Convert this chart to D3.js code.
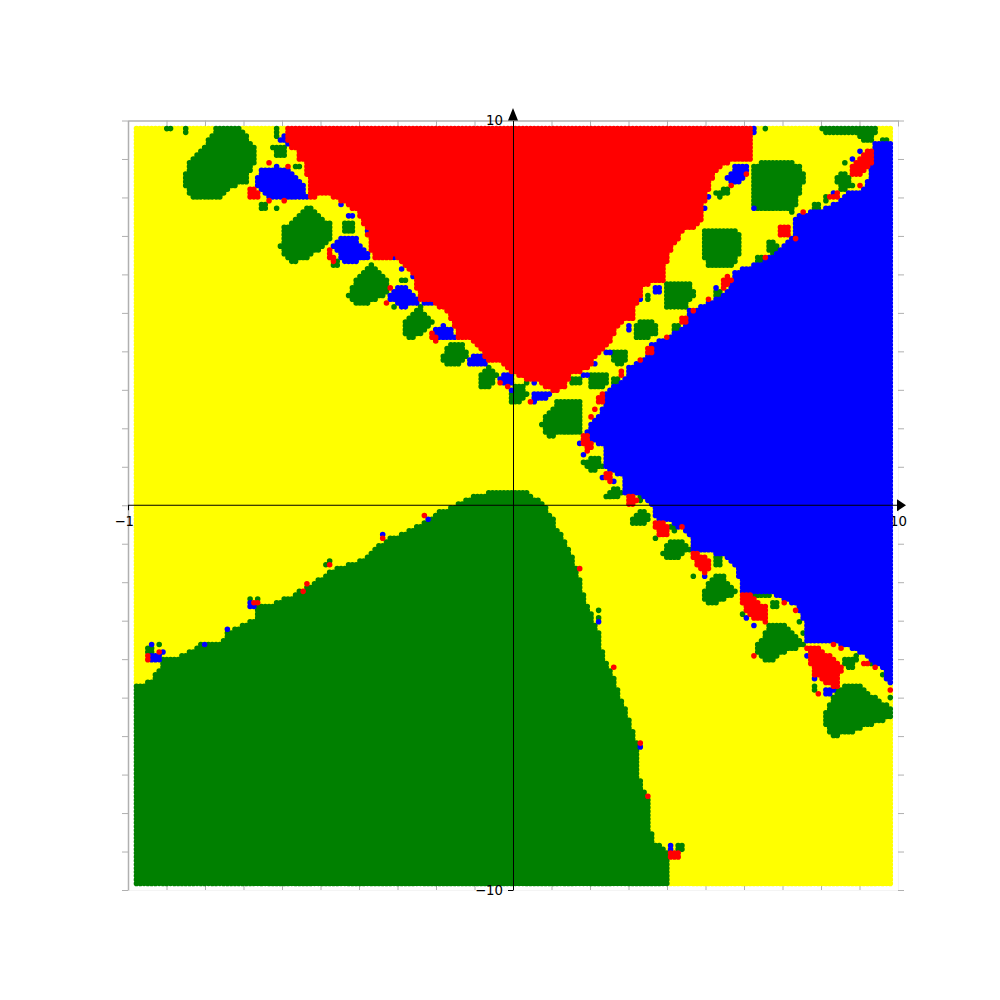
<!DOCTYPE html>
<html><head><meta charset="utf-8">
<style>html,body{margin:0;padding:0;background:#fff}svg{display:block}text{font-family:"DejaVu Sans",sans-serif;font-size:13.3px;fill:#000}</style>
<script src="https://cdn.jsdelivr.net/npm/d3@7/dist/d3.min.js"></script>
</head><body><div id="chart"></div>
<script>
const tickValues = d3.range(-10, 11);
const labelledTicks = [-10, 10];
const latticeCount = 200;
const latticeX = [-9.78, 9.8], latticeY = [-9.83, 9.79];
const palette = {yellow:"#ffff00", green:"#008000", blue:"#0000ff", red:"#ff0000"};

const greenBasin = [[-10,-4.81],[-9.35,-4.49],[-9.19,-4.23],[-9.12,-4],[-8.78,-3.95],[-8.47,-3.82],[-8.29,-3.71],[-8.05,-3.58],[-7.66,-3.58],[-7.48,-3.43],[-7.43,-3.25],[-7.17,-3.19],[-6.91,-3.04],[-6.65,-2.91],[-6.62,-2.6],[-6.26,-2.55],[-6,-2.42],[-5.74,-2.34],[-5.48,-2.16],[-5.27,-2.08],[-5.01,-1.9],[-4.75,-1.69],[-4.36,-1.56],[-3.97,-1.43],[-3.58,-1.12],[-3.19,-0.83],[-2.68,-0.65],[-2.29,-0.39],[-1.9,-0.16],[-1.45,0.05],[-0.86,0.31],[-0.42,0.36],[0,0.39],[0.44,0.31],[0.78,0.05],[1.04,-0.31],[1.17,-0.65],[1.35,-0.91],[1.53,-1.3],[1.74,-1.95],[1.87,-2.39],[2.08,-2.91],[2.21,-3.25],[2.29,-3.64],[2.47,-4.16],[2.65,-4.55],[2.83,-5.06],[3.04,-5.64],[3.25,-6.23],[3.3,-7.14],[3.51,-7.66],[3.56,-8.31],[3.69,-8.75],[4.03,-9.04],[4.08,-10],[-10,-10]];

const redBasin = [[-5.92,10],[6.23,10],[6.21,8.91],[5.71,8.96],[5.38,8.78],[5.19,8.52],[5.01,8],[4.94,7.66],[4.86,7.27],[4.42,7.14],[4.26,6.88],[4.08,6.55],[3.95,6.18],[3.9,5.84],[3.56,5.79],[3.38,5.64],[3.3,5.32],[3.17,5.14],[3.17,4.86],[2.91,4.86],[2.73,4.62],[2.6,4.34],[2.52,4.21],[2.31,4.03],[2.18,3.84],[2.05,3.69],[1.92,3.51],[1.69,3.45],[1.53,3.38],[1.4,3.12],[1.09,2.94],[0.88,3.06],[0.62,3.25],[0.18,3.3],[0,3.43],[-0.26,3.69],[-0.68,3.71],[-0.78,3.95],[-1.04,4.29],[-1.45,4.36],[-1.51,4.62],[-1.71,5.01],[-1.9,5.14],[-2.1,5.27],[-2.42,5.27],[-2.47,5.51],[-2.6,5.9],[-2.75,6.18],[-3.01,6.42],[-3.64,6.42],[-3.71,6.7],[-3.84,7.22],[-4.05,7.61],[-4.42,7.87],[-4.83,8.05],[-5.27,8],[-5.35,8.52],[-5.45,8.91],[-5.61,9.17],[-5.84,9.35]];

const blueBasin = [[10,9.48],[9.38,9.4],[9.38,8.83],[9.27,8.65],[9.19,8.36],[9.01,8.18],[8.57,8.1],[8.49,7.92],[8.18,7.74],[7.97,7.66],[7.64,7.61],[7.27,7.48],[7.27,7.06],[7.12,6.81],[6.62,6.49],[6.42,6.31],[5.97,6.18],[5.71,6.08],[5.71,5.84],[5.56,5.58],[5.12,5.27],[4.52,5.06],[4.55,4.73],[4.08,4.42],[3.61,4.23],[3.56,3.97],[3.22,3.69],[2.96,3.56],[2.91,3.32],[2.6,3.12],[2.34,2.91],[2.34,2.52],[2.13,2.26],[1.92,1.95],[1.95,1.74],[2.34,1.51],[2.34,0.96],[2.7,0.83],[2.91,0.65],[2.91,0.31],[3.38,0.21],[3.64,-0.05],[3.64,-0.34],[4.16,-0.44],[4.6,-0.86],[4.65,-1.17],[5.19,-1.22],[5.56,-1.38],[5.84,-1.69],[5.9,-2.26],[6.68,-2.26],[7.38,-2.65],[7.58,-3.12],[7.61,-3.58],[8.31,-3.58],[8.75,-3.71],[9.19,-3.95],[9.61,-4.29],[9.74,-4.62],[9.87,-4.75],[10,-4.75]];

const greenIslands = [
[[-7.66,10],[-7.22,10],[-6.65,9.22],[-6.7,8.91],[-6.83,8.7],[-6.86,8.34],[-7.14,8.31],[-7.35,8.23],[-7.43,8.1],[-7.66,7.92],[-8.26,7.92],[-8.47,8.18],[-8.55,8.44],[-8.44,8.88],[-8.13,9.22],[-7.82,9.66]],
[[-6.26,9.3],[-5.87,9.3],[-5.84,9.01],[-6.18,9.01]],
[[-6.13,10],[-6.05,10],[-6.05,9.53],[-6.23,9.53],[-6.23,9.69]],
[[-6.57,7.87],[-6.44,7.92],[-6.31,7.79],[-6.44,7.71],[-6.57,7.69]],
[[-5.71,8.88],[-5.48,8.88],[-5.48,8.75],[-5.71,8.75]],
[[-5.32,7.84],[-4.7,7.27],[-4.75,6.88],[-5.14,6.55],[-5.45,6.36],[-5.79,6.31],[-6.05,6.68],[-5.97,7.22],[-5.53,7.58]],
[[-4.42,7.35],[-4.1,7.35],[-4.16,7.09],[-4.42,7.09]],
[[-4.68,6.42],[-4.49,6.42],[-4.52,6.18],[-4.68,6.18]],
[[-3.66,6.31],[-3.25,5.9],[-3.27,5.51],[-3.71,5.25],[-4.05,5.14],[-4.29,5.4],[-4.23,5.66],[-4.05,5.92]],
[[-2.94,5.92],[-2.75,5.92],[-2.75,5.77],[-2.94,5.77]],
[[-3.14,5.19],[-3.01,5.19],[-3.01,5.06],[-3.14,5.06]],
[[-2.42,5.19],[-2.08,4.73],[-2.34,4.47],[-2.68,4.29],[-2.86,4.47],[-2.81,4.75],[-2.55,5.01]],
[[-1.82,3.95],[-1.64,4.21],[-1.32,4.21],[-1.17,3.95],[-1.3,3.71],[-1.64,3.58],[-1.82,3.77]],
[[-0.91,3.32],[-0.65,3.64],[-0.39,3.38],[-0.52,3.12],[-0.78,2.99],[-0.91,3.17]],
[[0.05,3.12],[0.31,3.12],[0.36,2.86],[0.1,2.6],[-0.1,2.6],[-0.1,2.91]],
[[0.31,3.3],[0.44,3.17],[0.26,3.12]],
[[0.49,2.68],[0.7,2.68],[0.7,2.6],[0.49,2.6]],
[[1.09,2.78],[1.74,2.73],[1.79,1.87],[1.22,1.84],[0.91,1.77],[0.73,2.08],[0.83,2.34],[1.04,2.52]],
[[1.79,1.09],[2,1.27],[2.26,1.22],[2.34,0.96],[2,0.86]],
[[2.83,0.7],[2.91,0.7],[2.91,0.52],[2.83,0.52]],
[[2.36,0.26],[2.57,0.47],[2.73,0.52],[2.91,0.31],[2.7,0.18],[2.39,0.18]],
[[3.17,0.31],[3.35,0.31],[3.35,0.13],[3.3,0.1]],
[[3.04,-0.44],[3.35,-0.08],[3.58,-0.26],[3.56,-0.44],[3.17,-0.55]],
[[4.08,-0.52],[4.29,-0.52],[4.29,-0.7],[4.13,-0.7]],
[[3.84,-1.3],[4,-0.99],[4.34,-0.86],[4.6,-1.17],[4.34,-1.35],[4.08,-1.43]],
[[5.25,-1.35],[5.43,-1.35],[5.43,-1.56],[5.27,-1.56]],
[[4.91,-2.29],[5.12,-1.9],[5.43,-1.77],[5.84,-2.29],[5.56,-2.39],[5.3,-2.55],[4.99,-2.55]],
[[6.23,-2.26],[6.68,-2.26],[6.68,-2.39],[6.23,-2.39]],
[[6.68,-2.52],[6.94,-2.52],[6.88,-2.73],[6.73,-2.73]],
[[6.26,-3.77],[6.47,-3.43],[6.6,-3.12],[7.06,-3.04],[7.58,-3.64],[7.45,-3.71],[7.01,-3.84],[6.73,-4.05],[6.47,-4.03]],
[[7.77,-4.62],[7.92,-4.62],[7.92,-4.81],[7.77,-4.81]],
[[8.57,-3.95],[8.94,-3.9],[8.88,-4.23],[8.75,-4.29],[8.62,-4.16]],
[[8.03,-5.58],[8.16,-5.25],[8.44,-4.73],[8.96,-4.6],[9.35,-4.94],[10,-5.4],[10,-5.53],[9.45,-5.64],[8.75,-5.92],[8.36,-6.03],[8.16,-5.84]],
[[7.97,10],[9.48,10],[9.4,9.66],[9.32,9.43],[9.09,9.48],[8.83,9.66],[8.05,9.66]],
[[9.58,9.53],[9.74,9.53],[9.74,9.45],[9.58,9.45]],
[[9.32,9.14],[9.4,9.14],[9.4,8.88],[9.32,8.88]],
[[8.36,8.57],[8.7,8.65],[8.83,8.31],[8.57,8.18],[8.44,8.26]],
[[8.03,8.05],[8.18,8.05],[8.18,7.87],[8.03,7.87]],
[[7.77,7.84],[7.97,7.82],[7.97,7.69],[7.77,7.69]],
[[6.21,8.88],[6.73,8.96],[7.19,8.96],[7.51,8.78],[7.58,8.44],[7.45,8.18],[7.4,7.84],[7.25,7.61],[6.86,7.66],[6.23,7.69],[6.16,7.97],[6.21,8.44]],
[[5.19,8.1],[5.64,8.31],[5.58,8.1],[5.38,7.97]],
[[6.55,6.88],[6.81,6.88],[6.94,6.62],[6.73,6.49],[6.62,6.62]],
[[6.29,6.44],[6.49,6.44],[6.49,6.31],[6.31,6.31]],
[[4.94,7.17],[5.84,7.14],[5.97,6.81],[5.84,6.44],[5.71,6.18],[5.04,6.23],[4.94,6.55]],
[[3.92,5.84],[4.55,5.84],[4.73,5.53],[4.52,5.14],[3.95,5.14]],
[[3.19,4.75],[3.48,4.86],[3.74,4.73],[3.74,4.47],[3.56,4.34],[3.19,4.34]],
[[2.55,4.03],[2.99,4.05],[3.01,3.77],[2.86,3.64],[2.57,3.69]],
[[1.95,3.38],[2.44,3.4],[2.42,3.17],[2.26,3.01],[1.95,3.04]],
[[5.17,5.64],[5.38,5.64],[5.38,5.38],[5.22,5.38]],
[[3.43,5.53],[3.56,5.53],[3.56,5.27],[3.43,5.27]],
[[4.08,4.73],[4.34,4.73],[4.34,4.55],[4.13,4.55]],
[[2.6,3.3],[2.78,3.3],[2.78,3.14],[2.6,3.14]],
[[1.48,3.3],[1.74,3.3],[1.74,3.17],[1.48,3.17]],
[[-9.53,-3.66],[-9.35,-3.66],[-9.35,-3.82],[-9.53,-3.82]],
[[-9.27,-3.58],[-9.17,-3.58],[-9.17,-3.69],[-9.27,-3.69]],
[[-6.91,-2.34],[-6.57,-2.34],[-6.57,-2.68],[-6.91,-2.68]],
[[4.21,-8.78],[4.39,-8.78],[4.39,-8.96],[4.21,-8.96]]
];

const yellowPockets = [
[[-6.81,-2.34],[-6.65,-2.34],[-6.65,-2.47],[-6.81,-2.47]]
];

const blueIslands = [
[[-6,9.66],[-5.84,9.48],[-5.84,9.32],[-6.05,9.48]],
[[-6.7,8.39],[-6.57,8.7],[-6.13,8.83],[-5.79,8.7],[-5.48,8.39],[-5.27,7.92],[-6.31,7.92],[-6.49,8.1]],
[[-4.7,6.75],[-4.49,7.01],[-4.1,6.96],[-3.77,6.62],[-3.66,6.36],[-4.42,6.31]],
[[-4.29,7.58],[-4.1,7.58],[-4.1,7.43],[-4.29,7.43]],
[[-3.25,5.4],[-2.94,5.71],[-2.62,5.58],[-2.36,5.19],[-2.94,5.14]],
[[-2.34,5.27],[-2.08,5.27],[-2.08,5.19],[-2.34,5.19]],
[[-2.08,4.55],[-1.84,4.68],[-1.64,4.62],[-1.45,4.29],[-1.97,4.34]],
[[-1.19,3.77],[-0.99,3.95],[-0.73,3.84],[-0.68,3.64],[-1.12,3.64]],
[[-0.34,3.38],[0,3.43],[0.05,3.17],[-0.34,3.17]],
[[0.49,2.91],[0.78,2.99],[1.04,2.94],[0.88,2.73],[0.52,2.68]],
[[8.03,-4.75],[8.31,-4.75],[8.36,-4.88],[8.18,-4.94],[8.03,-4.86]],
[[5.56,8.57],[5.77,8.83],[6.1,8.88],[6.03,8.52],[5.77,8.31],[5.58,8.39]],
[[5.06,8.1],[5.17,8.1],[5.17,7.92],[5.06,7.92]],
[[3.61,5.71],[3.87,5.71],[3.87,5.53],[3.69,5.53]],
[[2.91,4.75],[3.09,4.75],[3.09,4.55],[2.96,4.55]],
[[2.34,4.05],[2.52,4.05],[2.52,3.9],[2.34,3.9]],
[[1.79,3.45],[1.95,3.45],[1.95,3.3],[1.79,3.3]],
[[-9.45,-3.9],[-9.12,-3.9],[-9.12,-4.05],[-9.45,-4.05]],
[[-6.83,-2.52],[-6.65,-2.52],[-6.65,-2.65],[-6.83,-2.65]],
[[4,-8.83],[4.16,-8.83],[4.16,-9.04],[4,-9.04]]
];

const redIslands = [
[[-6.83,8.31],[-6.65,8.26],[-6.57,7.92],[-6.83,7.97]],
[[-4.86,6.68],[-4.7,6.62],[-4.62,6.31],[-4.83,6.44]],
[[-3.3,5.32],[-3.14,5.19],[-3.32,5.19]],
[[-2.16,4.47],[-2.03,4.47],[-1.97,4.23],[-2.13,4.34]],
[[-1.25,3.77],[-1.17,3.77],[-1.12,3.61],[-1.19,3.61]],
[[1.79,1.87],[1.95,1.82],[2.08,1.51],[1.92,1.35],[1.82,1.56]],
[[2.34,0.96],[2.57,0.83],[2.52,0.6],[2.39,0.7]],
[[2.94,0.31],[3.12,0.31],[3.27,0.05],[2.99,0]],
[[3.66,-0.39],[4,-0.47],[4.08,-0.73],[3.82,-0.83],[3.66,-0.6]],
[[4.65,-1.22],[5.06,-1.3],[5.14,-1.64],[4.99,-1.82],[4.73,-1.56]],
[[5.92,-2.26],[6.1,-2.29],[6.62,-2.65],[6.55,-3.06],[6.23,-2.94],[5.97,-2.65]],
[[7.61,-3.66],[7.9,-3.69],[8.49,-4.08],[8.55,-4.29],[8.42,-4.73],[8.23,-4.68],[7.79,-4.42],[7.69,-4.03]],
[[9.01,-4],[9.22,-4.03],[9.22,-4.16],[9.06,-4.13]],
[[8.75,8.78],[9.01,9.04],[9.32,9.3],[9.32,8.83],[9.01,8.57],[8.81,8.57]],
[[8.18,8.08],[8.49,8.16],[8.52,7.97],[8.23,7.97]],
[[6.88,7.19],[7.14,7.35],[7.19,6.96],[6.88,6.94]],
[[6.47,6.49],[6.62,6.57],[6.62,6.42],[6.47,6.42]],
[[5.38,5.77],[5.56,5.97],[5.69,5.9],[5.64,5.66],[5.45,5.64]],
[[4.34,4.86],[4.52,4.94],[4.52,4.7],[4.34,4.7]],
[[3.48,4.1],[3.61,4.1],[3.61,3.97],[3.48,3.97]],
[[2.78,3.56],[2.91,3.56],[2.91,3.3],[2.78,3.3]],
[[2.21,2.86],[2.34,2.91],[2.34,2.65],[2.21,2.65]],
[[-9.27,-3.74],[-9.12,-3.74],[-9.12,-3.9],[-9.27,-3.9]],
[[-9.53,-3.9],[-9.45,-3.9],[-9.45,-4.03],[-9.53,-4.03]],
[[-6.73,-2.44],[-6.6,-2.44],[-6.6,-2.55],[-6.73,-2.55]],
[[4.08,-8.96],[4.34,-8.96],[4.34,-9.14],[4.08,-9.14]]
];

const greenSpecks = [[-9.04,9.79],[-8.94,9.79],[-8.49,9.79],[-8.49,9.7],[6.55,9.79],[8.62,8.88],[-6.13,7.74],[-4.83,-1.56],[-4.75,-1.48],[-3.4,-0.75],[2.21,-2.78],[2.21,-2.94],[4.68,-1.87],[3.69,-0.86],[7.45,-2.99],[7.58,-3.3],[9.27,-4.1],[9.58,-4.36],[5.97,-2.81],[9.79,-4.96]];
const redSpecks = [[-6.31,8.88],[-5.84,8.78],[-6.31,7.87],[-5.97,7.87],[-5.56,9.01],[-3.14,5.66],[-0.13,3.06],[-0.36,3.17],[0.49,2.68],[4.39,-0.57],[7.06,-2.52],[7.38,-2.73],[6.23,-3.95],[7.97,-4.86],[8.29,-3.61],[8.57,-3.69],[9.45,-4.23],[9.79,-4.81],[9.06,8.29],[7.58,7.61],[5.64,8.29],[6.08,8.62],[6.21,9.69],[4.91,7.53],[7.3,6.96],[5.06,5.32],[4.68,5.09],[3.95,4.36],[3.3,3.77],[2.05,2.34],[2.13,2.47],[1.74,-1.64],[2.65,-4.23],[3.32,-6.23],[3.51,-7.53],[-5.45,-2.21],[-5.32,-2.05],[-4.81,-1.56],[-3.4,-0.83],[-2.29,-0.31]];
const blueSpecks = [[6.29,9.79],[6.29,9.69],[6.23,7.71],[8.83,9.01],[9.06,9.17],[9.27,8.78],[8.29,8.13],[4.94,7.71],[5.32,5.66],[3.3,5.32],[2.08,3.71],[-4.42,7.84],[-3.82,7.14],[-3.12,6.42],[-2.86,6.1],[-2.6,5.9],[-0.08,2.94],[0.52,3.19],[1.71,1.56],[1.82,1.35],[2.31,0.73],[2.57,0.65],[3.48,0.08],[4.99,-1.87],[6.1,-2.94],[6.29,-3.12],[7.64,-3.95],[7.82,-4.47],[-7.45,-3.27],[-8.03,-3.61],[-9.35,-3.66],[-9.09,-3.84],[2.21,-3.04],[3.35,-6.31],[-2.23,-0.34],[-3.4,-0.73]];

const x = d3.scaleLinear().domain([-10,10]).range([128,898]);
const y = d3.scaleLinear().domain([-10,10]).range([890,120.5]);

const svg = d3.select("#chart").append("svg").attr("width",1000).attr("height",1000);

const grey = "#b0b0b0";
function frame(axis, tx, ty, faint){
  const g = svg.append("g").attr("transform",`translate(${tx},${ty})`).call(axis.tickValues(tickValues).tickFormat("").tickSizeInner(-6).tickSizeOuter(0));
  g.selectAll("line").attr("stroke",grey);
  g.select(".domain").attr("stroke",faint?"#f4f4f4":grey).attr("stroke-width",faint?1:1.5);
}
frame(d3.axisBottom(x), 0, y(-10), true);
frame(d3.axisLeft(y), x(10), 0, true);
frame(d3.axisTop(x), 0, y(10), false);
frame(d3.axisRight(y), x(-10), 0, false);

// horizontal labels lie beneath the points
const xAxis = d3.axisBottom(x).tickValues(labelledTicks).tickSizeInner(5).tickSizeOuter(0).tickPadding(6).tickFormat(d=>d<0?"\u2212"+Math.abs(d):d);
const xg = svg.append("g").attr("transform",`translate(0,${y(0)})`).call(xAxis);
xg.select(".domain").remove();
xg.selectAll("text").attr("font-family",null).attr("font-size",null).style("font-family",'"DejaVu Sans"').style("font-size","13.3px");

function layer(name, polys){ return polys.map(p=>({name,p,b:[d3.min(p,d=>d[0]),d3.max(p,d=>d[0]),d3.min(p,d=>d[1]),d3.max(p,d=>d[1])]})); }
const layers = [
  ...layer("green",[greenBasin]), ...layer("red",[redBasin]), ...layer("blue",[blueBasin]),
  ...layer("green",greenIslands), ...layer("yellow",yellowPockets), ...layer("blue",blueIslands), ...layer("red",redIslands)
];
const colX = d3.scaleLinear().domain([0,latticeCount-1]).range(latticeX);
const rowY = d3.scaleLinear().domain([0,latticeCount-1]).range(latticeY);
const colorAt = Array.from({length:latticeCount},()=>new Array(latticeCount).fill("yellow"));
for(let i=0;i<latticeCount;i++)for(let j=0;j<latticeCount;j++){
  const vx=colX(i), vy=rowY(j);
  for(const l of layers){
    if(vx<l.b[0]||vx>l.b[1]||vy<l.b[2]||vy>l.b[3])continue;
    if(d3.polygonContains(l.p,[vx,vy])) colorAt[i][j]=l.name;
  }
}
function speck(list,name){ list.forEach(([a,b])=>{
  const i=Math.max(0,Math.min(latticeCount-1,Math.round(colX.invert(a)))), j=Math.max(0,Math.min(latticeCount-1,Math.round(rowY.invert(b))));
  colorAt[i][j]=name; }); }
speck(greenSpecks,"green"); speck(redSpecks,"red"); speck(blueSpecks,"blue");

const radius = 2.8;
["yellow","green","blue","red"].forEach(name=>{
  const path = d3.path();
  for(let i=0;i<latticeCount;i++)for(let j=0;j<latticeCount;j++){
    if(colorAt[i][j]!==name)continue;
    const px=x(colX(i)), py=y(rowY(j));
    path.moveTo(px+radius,py); path.arc(px,py,radius,0,2*Math.PI);
  }
  svg.append("path").attr("d",path.toString()).attr("fill",palette[name]);
});

svg.append("line").attr("x1",x(-10)).attr("x2",x(10)).attr("y1",y(0)).attr("y2",y(0)).attr("stroke","#000").attr("stroke-width",1);
const yAxis = d3.axisLeft(y).tickValues(labelledTicks).tickSizeInner(5).tickSizeOuter(0).tickPadding(5).tickFormat(d=>d<0?"\u2212"+Math.abs(d):d);
const yg = svg.append("g").attr("transform",`translate(${x(0)},0)`).call(yAxis);
yg.select(".domain").attr("stroke","#000");
yg.selectAll("line").filter(d=>d===10).remove();
yg.selectAll("text").attr("font-family",null).attr("font-size",null).style("font-family",'"DejaVu Sans"').style("font-size","13.3px");
const arrow = d3.line();
svg.append("path").attr("d",arrow([[x(10)-1,y(0)-6],[x(10)+8,y(0)],[x(10)-1,y(0)+6]])+"Z").attr("fill","#000");
svg.append("path").attr("d",arrow([[x(0)-5,y(10)],[x(0),y(10)-12.5],[x(0)+5,y(10)]])+"Z").attr("fill","#000");
</script></body></html>
